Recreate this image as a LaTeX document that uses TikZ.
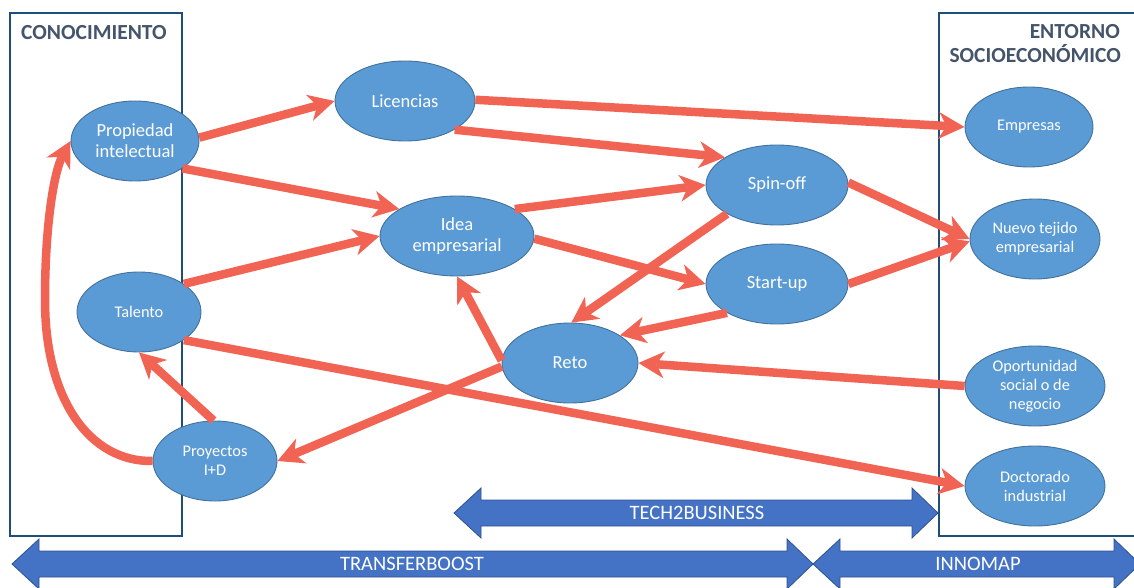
\documentclass[tikz,border=0pt]{standalone}
\usepackage{fontspec}
\setmainfont{Carlito}
\usetikzlibrary{shapes.geometric,arrows.meta}
\definecolor{bubfill}{RGB}{91,155,213}
\definecolor{bubline}{RGB}{65,113,156}
\definecolor{redarr}{RGB}{241,99,83}
\definecolor{bluearr}{RGB}{68,114,196}
\definecolor{bluearrline}{RGB}{47,82,143}
\definecolor{boxline}{RGB}{31,78,121}
\definecolor{headtxt}{RGB}{68,84,106}
\begin{document}
\begin{tikzpicture}[x=1pt,y=-1pt,
  bub/.style={ellipse, fill=bubfill, draw=bubline, line width=0.9pt, inner sep=0pt, text=white, align=center},
  bigtxt/.style={font=\fontsize{18.5}{21}\selectfont},
  smalltxt/.style={font=\fontsize{16.3}{19}\selectfont},
  flow/.style={draw=redarr, line width=8.5pt, -{Stealth[length=26pt,width=27pt,inset=8pt,line width=0pt]}},
  zone/.style={draw=boxline, line width=2.6pt},
  headtext/.style={font=\fontsize{21.5}{25}\selectfont\bfseries, text=headtxt, inner sep=0pt},
  band/.style={fill=bluearr, draw=bluearrline, line width=0.8pt},
  bandtext/.style={font=\fontsize{20.5}{24}\selectfont, text=white, inner sep=0pt}]
\useasboundingbox (0,0) rectangle (1134,588);
\clip (0,0) rectangle (1134,588);
% zones
\draw[zone] (10,13) rectangle (182,536);
\draw[zone] (939,13) rectangle (1150,536);
\node[headtext, anchor=base west] (hc) at (21,40) {CONOCIMIENTO};
\node[headtext, anchor=base east] (he1) at (1120,39) {ENTORNO};
\node[headtext, anchor=base east] (he2) at (1121,63) {SOCIOECONÓMICO};
% block arrows
\fill[band] (454,513) -- (481,488) -- (481,500) -- (912,500) -- (912,488) -- (938,513) -- (912,538) -- (912,526) -- (481,526) -- (481,538) -- cycle;
\node[bandtext] (t2b) at (697,513) {TECH2BUSINESS};
\fill[band] (12,564) -- (39,539) -- (39,551) -- (787,551) -- (787,539) -- (813,564) -- (787,589) -- (787,577) -- (39,577) -- (39,589) -- cycle;
\node[bandtext] (tfb) at (412,564) {TRANSFERBOOST};
\fill[band] (813,564) -- (840,539) -- (840,551) -- (1114,551) -- (1114,539) -- (1140,564) -- (1114,589) -- (1114,577) -- (840,577) -- (840,589) -- cycle;
\node[bandtext] (inm) at (978,564) {INNOMAP};
% nodes
\node[bub,bigtxt,minimum width=128pt,minimum height=80pt] (prop) at (135,141) {Propiedad\\intelectual};
\node[bub,bigtxt,minimum width=140pt,minimum height=80pt] (lic) at (405,101) {Licencias};
\node[bub,bigtxt,minimum width=154pt,minimum height=80pt] (idea) at (457,236) {Idea\\empresarial};
\node[bub,bigtxt,minimum width=142pt,minimum height=80pt] (spin) at (777,185) {Spin-off};
\node[bub,bigtxt,minimum width=142pt,minimum height=80pt] (start) at (777,284) {Start-up};
\node[bub,bigtxt,minimum width=136pt,minimum height=80pt] (reto) at (570,363) {Reto};
\node[bub,smalltxt,minimum width=124pt,minimum height=80pt] (tal) at (139,312) {Talento};
\node[bub,smalltxt,minimum width=124pt,minimum height=80pt] (proy) at (215,461) {Proyectos\\I+D};
\node[bub,smalltxt,minimum width=128pt,minimum height=80pt] (emp) at (1029,127) {Empresas};
\node[bub,smalltxt,minimum width=130pt,minimum height=80pt] (nuevo) at (1035,239) {Nuevo tejido\\empresarial};
\node[bub,smalltxt,minimum width=140pt,minimum height=80pt] (opor) at (1035,386) {Oportunidad\\social o de\\negocio};
\node[bub,smalltxt,minimum width=140pt,minimum height=80pt] (doc) at (1035,486) {Doctorado\\industrial};
% flows
\draw[flow] (prop.3) -- (lic.180);
\draw[flow] (prop.-30) -- (idea.155);
\draw[flow] (tal.32) -- (idea.180);
\draw[flow] (lic.1) -- (emp.180);
\draw[flow] (lic.-30) -- (spin.152);
\draw[flow] (idea.25) -- (spin.180);
\draw[flow] (idea.-2) -- (start.180);
\draw[flow] (spin.210) -- (reto.88);
\draw[flow] (start.210) -- (reto.29);
\draw[flow] (opor.180) -- (reto.0);
\draw[flow] (reto.178) -- (idea.270);
\draw[flow] (reto.183) -- (proy.0);
\draw[flow] (tal.-32) -- (doc.180);
\draw[flow] (proy.92) -- (tal.270);
\draw[flow] (proy.180) .. controls (90,462) and (45,400) .. (45,300) .. controls (45,220) and (55,170) .. (prop.180);
\draw[flow] (spin.2) -- (nuevo.180);
\draw[flow] (start.0) -- (nuevo.182);
\end{tikzpicture}
\end{document}
